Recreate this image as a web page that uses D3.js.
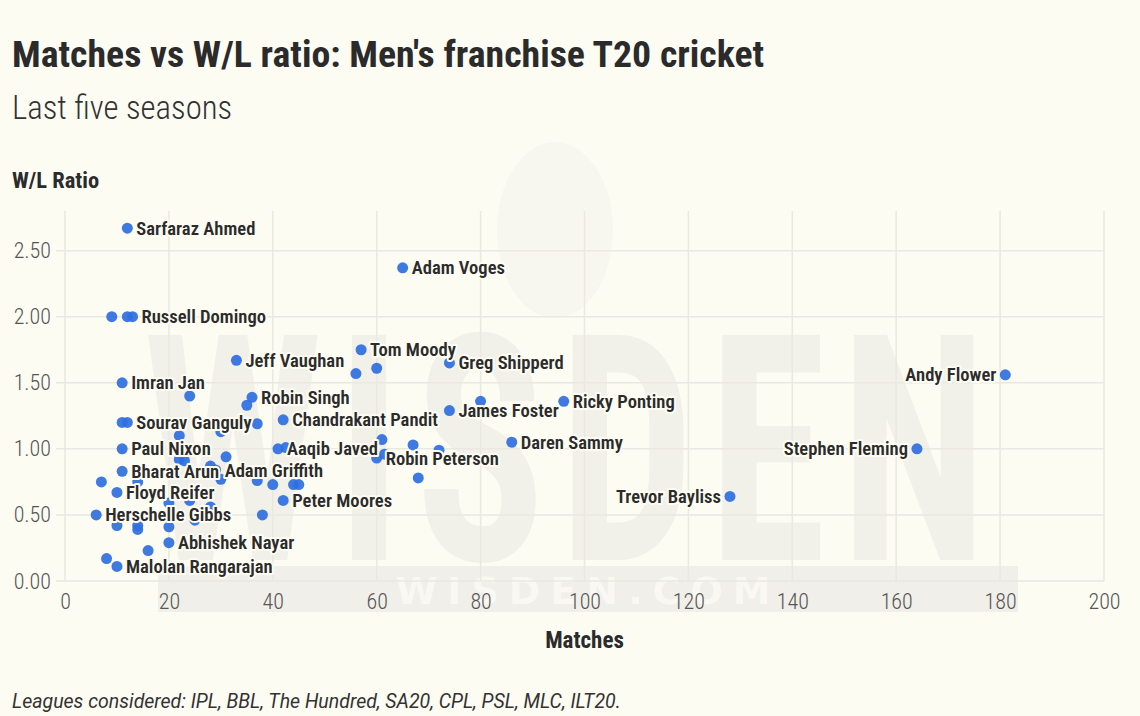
<!DOCTYPE html>
<html>
<head>
<meta charset="utf-8">
<script src="https://cdn.jsdelivr.net/npm/d3@7"></script>
<style>
  html, body { margin: 0; padding: 0; background: #fdfcf3; }
  svg { display: block; }
  text { font-family: "Roboto Condensed", "Liberation Sans Narrow", "Arial Narrow", Roboto, sans-serif; }
</style>
</head>
<body>
<svg id="chart"></svg>
<script>
"use strict";

// one entry per coach; "" means the dot has no label
const coaches = [
  "Sarfaraz Ahmed", "Adam Voges", "Russell Domingo", "", "",
  "Jeff Vaughan", "Tom Moody", "Greg Shipperd", "", "",
  "Andy Flower", "Imran Jan", "", "Robin Singh", "",
  "Chandrakant Pandit", "", "James Foster", "", "Ricky Ponting",
  "Sourav Ganguly", "", "", "", "Paul Nixon",
  "", "", "Daren Sammy", "Aaqib Javed", "",
  "Robin Peterson", "", "", "", "Stephen Fleming",
  "Trevor Bayliss", "Bharat Arun", "", "", "",
  "Adam Griffith", "", "", "", "",
  "", "", "", "Floyd Reifer", "",
  "", "", "Peter Moores", "Herschelle Gibbs", "",
  "", "", "", "", "",
  "Abhishek Nayar", "", "", "Malolan Rangarajan", ""
];
const matches = [
  12, 65, 13, 9, 12,
  33, 57, 74, 56, 60,
  181, 11, 24, 36, 35,
  42, 37, 74, 80, 96,
  12, 11, 30, 22, 11,
  61, 67, 86, 41, 42.5,
  60, 61.5, 72, 68, 164,
  128, 11, 31, 22, 23,
  29, 28, 30, 37, 40,
  44, 45, 7, 10, 14,
  20, 24, 42, 6, 28,
  38, 10, 14, 14, 20,
  20, 25, 16, 10, 8
];
const wlRatio = [
  2.67, 2.37, 2.00, 2.00, 2.00,
  1.67, 1.75, 1.65, 1.57, 1.61,
  1.56, 1.50, 1.40, 1.39, 1.33,
  1.22, 1.19, 1.29, 1.36, 1.36,
  1.20, 1.20, 1.13, 1.10, 1.00,
  1.07, 1.03, 1.05, 1.00, 1.01,
  0.93, 0.96, 0.99, 0.78, 1.00,
  0.64, 0.83, 0.94, 0.92, 0.91,
  0.84, 0.87, 0.77, 0.76, 0.73,
  0.73, 0.73, 0.75, 0.67, 0.75,
  0.59, 0.61, 0.61, 0.50, 0.56,
  0.50, 0.42, 0.42, 0.39, 0.41,
  0.29, 0.46, 0.23, 0.11, 0.17
];
const xTicks = [0, 20, 40, 60, 80, 100, 120, 140, 160, 180, 200];
const yTicks = [0, 0.5, 1, 1.5, 2, 2.5];
const leftLabels = ["Andy Flower", "Stephen Fleming", "Trevor Bayliss"];

const dataset = coaches.map((name, i) => ({ name, matches: matches[i], ratio: wlRatio[i] }));

const width = 1140;
const height = 716;
const margin = { top: 211, right: 36, bottom: 135, left: 65 };
const bg = "#fdfcf3";
const ink = "#2b2b2b";
const condensed = "\"Roboto Condensed\", \"Liberation Sans Narrow\", Roboto, sans-serif";

const svg = d3.select("#chart").attr("width", width).attr("height", height);

svg.append("rect").attr("width", width).attr("height", height).attr("fill", bg);

const xScale = d3.scaleLinear().domain([0, 200]).range([margin.left, width - margin.right]);
const yScale = d3.scaleLinear().domain([0, 2.8]).range([height - margin.bottom, margin.top]);

// faint watermark behind the plot
const wm = svg.append("g").attr("class", "watermark");
wm.append("ellipse")
  .attr("cx", 555).attr("cy", 230).attr("rx", 58).attr("ry", 88)
  .attr("fill", "#f8f7ef");
wm.append("text")
  .attr("transform", "translate(572,560) scale(1,1.32)")
  .attr("text-anchor", "middle")
  .attr("font-weight", 700)
  .attr("font-size", 240)
  .attr("letter-spacing", 14)
  .attr("fill", "#f2f1e9")
  .style("font-family", condensed)
  .text("WISDEN");
wm.append("rect")
  .attr("x", 158).attr("y", 566).attr("width", 860).attr("height", 46)
  .attr("fill", "#f0efe9");
wm.append("text")
  .attr("x", 588).attr("y", 604)
  .attr("text-anchor", "middle")
  .attr("font-weight", 700)
  .attr("font-size", 38)
  .attr("letter-spacing", 10)
  .attr("fill", "#f9f8f2")
  .style("font-family", "\"DejaVu Sans\"")
  .text("WISDEN.COM");

// grid
const grid = svg.append("g").attr("class", "grid");
grid.selectAll("line.v")
  .data(xTicks)
  .enter()
  .append("line")
  .attr("class", "v")
  .attr("x1", (d) => xScale(d)).attr("x2", (d) => xScale(d))
  .attr("y1", margin.top).attr("y2", yScale(0))
  .attr("stroke", "#e9e8e1").attr("stroke-width", 1.5);
grid.selectAll("line.h")
  .data(yTicks)
  .enter()
  .append("line")
  .attr("class", "h")
  .attr("x1", margin.left - 9).attr("x2", xScale(200))
  .attr("y1", (d) => yScale(d)).attr("y2", (d) => yScale(d))
  .attr("stroke", "#e9e8e1").attr("stroke-width", 1.5);

// axes (labels only, the grid is drawn above)
const xAxis = d3.axisBottom(xScale).tickValues(xTicks).tickSize(0).tickPadding(12);
const yAxis = d3.axisLeft(yScale).tickValues(yTicks).tickSize(0).tickPadding(14).tickFormat(d3.format(".2f"));

const gx = svg.append("g")
  .attr("id", "x-axis")
  .attr("transform", `translate(0,${yScale(0)})`)
  .call(xAxis);
const gy = svg.append("g")
  .attr("id", "y-axis")
  .attr("transform", `translate(${margin.left},0)`)
  .call(yAxis);
[gx, gy].forEach((g) => {
  g.select(".domain").remove();
  g.selectAll("text")
    .attr("fill", "#555")
    .attr("font-size", 22)
    .attr("font-weight", 300)
    .style("font-family", condensed);
});

// points
svg.append("g")
  .selectAll("circle")
  .data(dataset)
  .enter()
  .append("circle")
  .attr("cx", (d) => xScale(d.matches))
  .attr("cy", (d) => yScale(d.ratio))
  .attr("r", 5.5)
  .attr("fill", "#2f6fe0")
  .attr("fill-opacity", 0.92);

// labels with background halo
svg.append("g")
  .selectAll("text")
  .data(dataset.filter((d) => d.name !== ""))
  .enter()
  .append("text")
  .attr("x", (d) => xScale(d.matches) + (leftLabels.includes(d.name) ? -9 : 9))
  .attr("y", (d) => yScale(d.ratio))
  .attr("dy", "0.35em")
  .attr("text-anchor", (d) => (leftLabels.includes(d.name) ? "end" : "start"))
  .attr("font-size", 18.6)
  .attr("font-weight", 600)
  .attr("fill", ink)
  .attr("stroke", bg)
  .attr("stroke-width", 4)
  .attr("stroke-linejoin", "round")
  .attr("paint-order", "stroke")
  .text((d) => d.name);

// titles
svg.append("text")
  .attr("x", 12).attr("y", 67)
  .attr("font-size", 37.8).attr("font-weight", 700).attr("fill", ink)
  .text("Matches vs W/L ratio: Men's franchise T20 cricket");
svg.append("text")
  .attr("x", 12).attr("y", 119)
  .attr("font-size", 32.8).attr("font-weight", 300).attr("fill", "#333")
  .text("Last five seasons");
svg.append("text")
  .attr("x", 12).attr("y", 188)
  .attr("font-size", 22.5).attr("font-weight", 700).attr("fill", ink)
  .text("W/L Ratio");
svg.append("text")
  .attr("x", (xScale(0) + xScale(200)) / 2).attr("y", 648)
  .attr("text-anchor", "middle")
  .attr("font-size", 23).attr("font-weight", 700).attr("fill", ink)
  .text("Matches");
svg.append("text")
  .attr("x", 12).attr("y", 708)
  .attr("font-size", 19.5).attr("font-style", "italic").attr("fill", "#333")
  .style("font-family", "Roboto, sans-serif")
  .text("Leagues considered: IPL, BBL, The Hundred, SA20, CPL, PSL, MLC, ILT20.");
</script>
</body>
</html>
